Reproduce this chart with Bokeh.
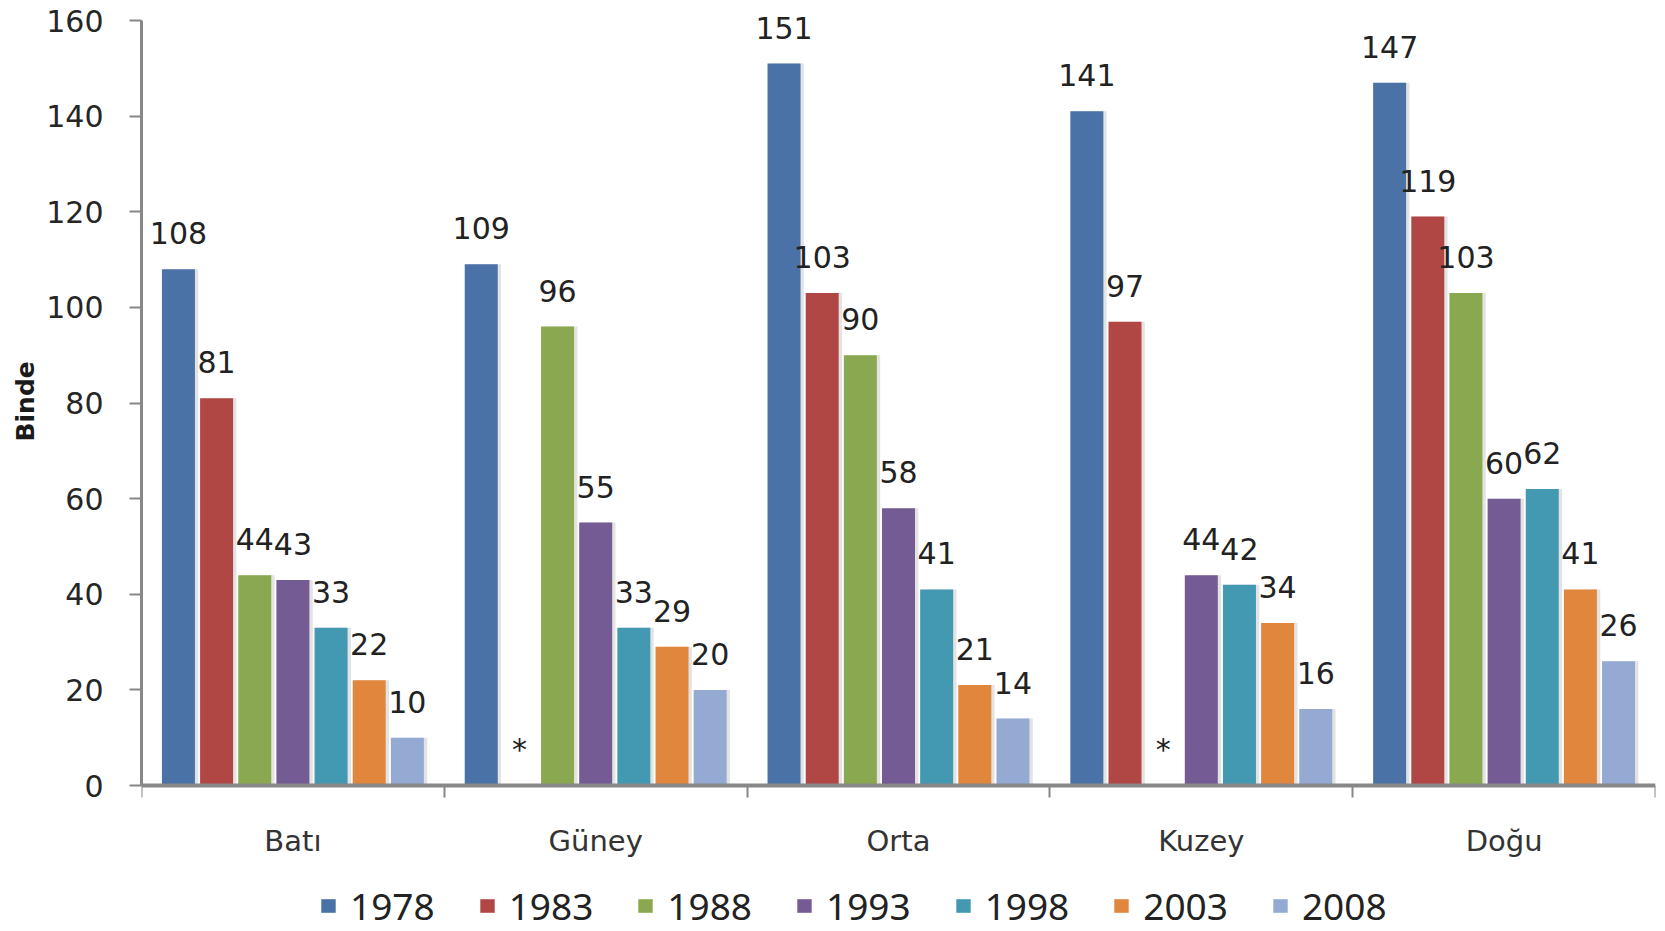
from bokeh.plotting import figure
from bokeh.models import ColumnDataSource, Range1d, FixedTicker, Legend, LegendItem, Title
from bokeh.transform import dodge
from bokeh.core.properties import value
from bokeh.embed import file_html
from bokeh.resources import INLINE

# ---------------- data ----------------
regions = ["Batı", "Güney", "Orta", "Kuzey", "Doğu"]
years = ["1978", "1983", "1988", "1993", "1998", "2003", "2008"]
v1978 = [108, 109, 151, 141, 147]
v1983 = [81, None, 103, 97, 119]
v1988 = [44, 96, 90, None, 103]
v1993 = [43, 55, 58, 44, 60]
v1998 = [33, 33, 41, 42, 62]
v2003 = [22, 29, 21, 34, 41]
v2008 = [10, 20, 14, 16, 26]
y_ticks = [0, 20, 40, 60, 80, 100, 120, 140, 160]
missing_label = "*"
y_title = "Binde"

series = [v1978, v1983, v1988, v1993, v1998, v2003, v2008]
colors = ["#4a72a6", "#b04745", "#8aa84f", "#755b94", "#4299b1", "#e0873d", "#94aad2"]

# ---------------- layout geometry ----------------
W, H = 1665, 931
top_px, axis_px = 20, 785          # pixel rows of y=160 and y=0
px_per_unit = (axis_px - top_px) / (y_ticks[-1] - y_ticks[0])
y_low = y_ticks[0] - (H - axis_px) / px_per_unit   # frame reaches canvas bottom
y_high = y_ticks[-1] + top_px / px_per_unit        # frame reaches canvas top

n = len(regions)
p = figure(width=W, height=H,
           x_range=Range1d(0, n), y_range=Range1d(y_low, y_high),
           output_backend="svg", toolbar_location=None,
           min_border_left=141, min_border_right=10,
           min_border_top=0, min_border_bottom=0)
p.outline_line_color = None
p.xgrid.visible = False
p.ygrid.visible = False
p.background_fill_color = "white"

centers = [i + 0.5 for i in range(n)]
stride = 0.126
bar_w = 0.109

items = []
for j, (yr, vals) in enumerate(zip(years, series)):
    off = (j - (len(years) - 1) / 2) * stride
    src = ColumnDataSource(dict(
        x=centers,
        top=[float("nan") if v is None else v for v in vals],
        ly=[0 if v is None else v for v in vals],
        lab=[missing_label if v is None else str(v) for v in vals],
    ))
    # soft shadow
    p.vbar(x=dodge("x", off + 0.011), top="top", bottom=0, width=bar_w, source=src,
           fill_color="#dcdcdc", line_color=None, fill_alpha=0.8)
    r = p.vbar(x=dodge("x", off), top="top", bottom=0, width=bar_w, source=src,
               fill_color=colors[j], line_color=None)
    p.text(x=dodge("x", off), y="ly", text="lab", source=src,
           text_align="center", text_baseline="alphabetic", y_offset=-36,
           text_font=value("DejaVu Sans"), text_font_size="30px",
           text_color="#222222")
    items.append(LegendItem(label=yr, renderers=[r]))

# ---------------- axes ----------------
axis_grey = "#878787"
yax = p.yaxis[0]
yax.ticker = FixedTicker(ticks=y_ticks)
yax.bounds = (y_ticks[0], y_ticks[-1])
yax.axis_line_color = axis_grey
yax.axis_line_width = 3
yax.major_tick_line_color = axis_grey
yax.major_tick_line_width = 2
yax.major_tick_out = 12
yax.major_tick_in = 0
yax.minor_tick_line_color = None
yax.major_label_text_font = "DejaVu Sans"
yax.major_label_text_font_size = "30px"
yax.major_label_text_color = "#262626"
yax.major_label_standoff = 26

p.add_layout(Title(text=y_title, align="left", offset=490, standoff=8,
                   text_font="DejaVu Sans", text_font_style="bold",
                   text_font_size="25px", text_color="#1a1a1a"), "left")

xax = p.xaxis[0]
xax.fixed_location = y_ticks[0]
xax.ticker = FixedTicker(ticks=centers, minor_ticks=list(range(n + 1)))
xax.major_label_overrides = {c: r for c, r in zip(centers, regions)}
xax.axis_line_color = axis_grey
xax.axis_line_width = 4
xax.major_tick_line_color = None
xax.major_tick_out = 0
xax.major_tick_in = 0
xax.minor_tick_line_color = axis_grey
xax.minor_tick_line_width = 2
xax.minor_tick_out = 12
xax.minor_tick_in = 0
xax.major_label_text_font = "DejaVu Sans"
xax.major_label_text_font_size = "29px"
xax.major_label_text_color = "#333333"
xax.major_label_standoff = 26

# ---------------- legend ----------------
legend = Legend(items=items, orientation="horizontal", location=(178, 0),
                label_text_font="Noto Sans", label_text_font_size="37px",
                label_text_color="#222222",
                glyph_width=18, glyph_height=17, label_standoff=13, spacing=43,
                padding=0, margin=0, border_line_color=None,
                background_fill_alpha=0)
p.add_layout(legend, "center")

open("out.html", "w").write(file_html(p, INLINE))
